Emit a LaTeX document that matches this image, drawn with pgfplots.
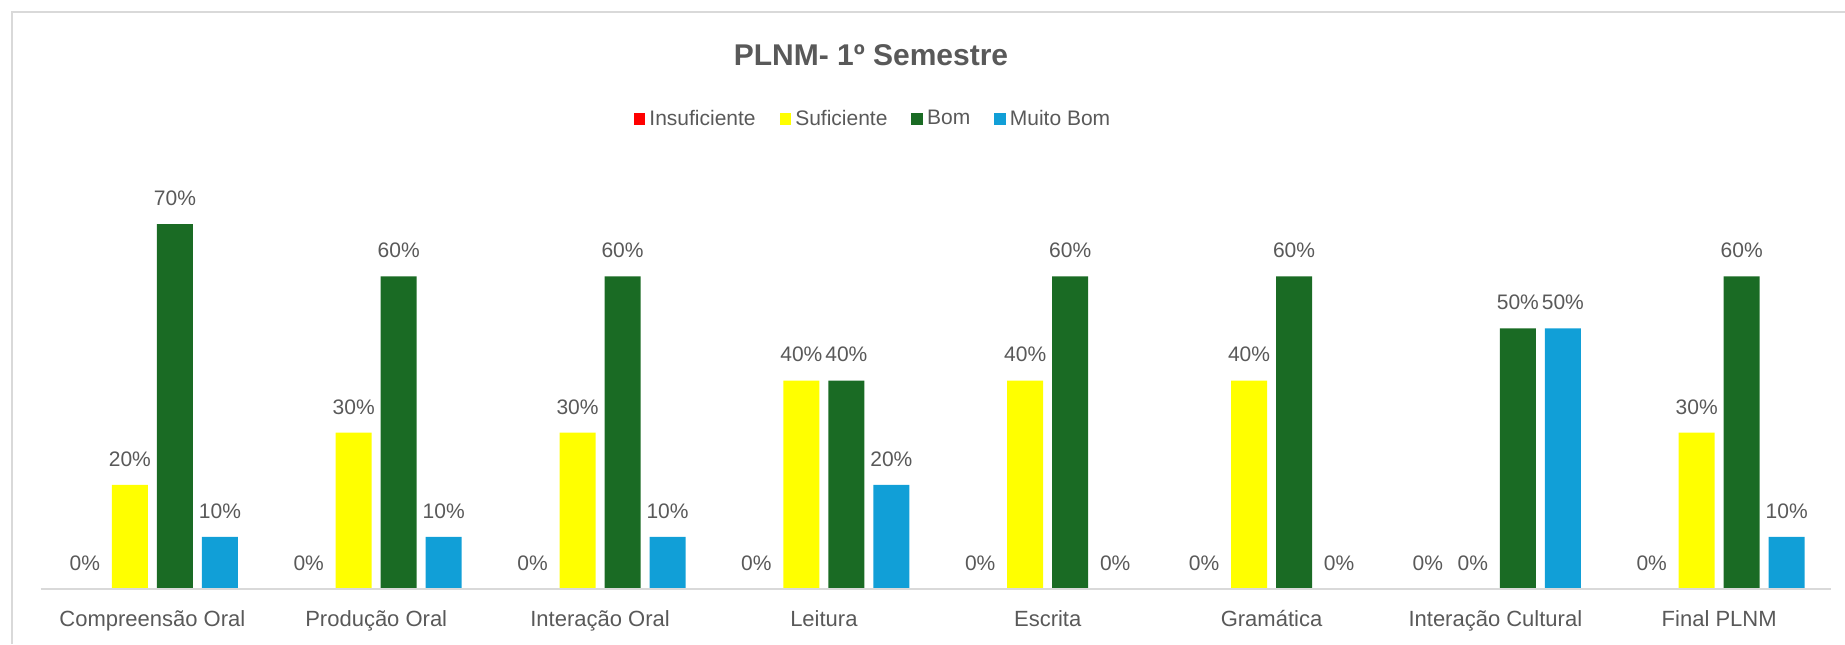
\documentclass[border=0pt]{standalone}
\usepackage{pgfplots}
\pgfplotsset{compat=1.18}
\usepackage{fontspec}
\setmainfont{Liberation Sans}
\definecolor{txt}{HTML}{595959}
\definecolor{cRed}{HTML}{FF0000}
\definecolor{cYel}{HTML}{FFFF00}
\definecolor{cGrn}{HTML}{1A6B24}
\definecolor{cBlu}{HTML}{119FD7}
\definecolor{gridc}{HTML}{D9D9D9}
\begin{document}
\begin{tikzpicture}
\path[use as bounding box] (0,0) rectangle (922.5pt,322pt);
\draw[gridc, line width=1pt] (6pt,0) -- (6pt,316pt) -- (922.5pt,316pt);
\begin{axis}[
  at={(20.25pt,27.5pt)}, anchor=south west, scale only axis,
  width=895.3pt, height=208.5pt,
  xmin=-0.5, xmax=7.5, ymin=0, ymax=80,
  ybar=4.5pt, bar width=18pt,
  axis on top,
  axis x line*=bottom, axis y line=none,
  x axis line style={gridc, line width=1.2pt, -},
  xtick={0,1,2,3,4,5,6,7},
  xticklabels={Compreensão Oral, Produção Oral, Interação Oral, Leitura, Escrita, Gramática, Interação Cultural, Final PLNM},
  major tick length=0pt, xtick style={draw=none}, ytick=\empty,
  xticklabel style={font=\fontsize{11}{13}\selectfont, text=txt, anchor=north, inner sep=0pt, yshift=-10.5pt},
  /pgf/number format/assume math mode=true,
  nodes near coords={\pgfmathprintnumber{\pgfplotspointmeta}\%},
  every node near coord/.append style={font=\fontsize{10.5}{12}\selectfont, text=txt, anchor=south, inner sep=0pt, yshift=9pt},
  legend columns=4,
  legend style={at={(0.4655,1.127)}, anchor=center, draw=none, fill=none,
    font=\fontsize{10.5}{13}\selectfont, text=txt,
    /tikz/every even column/.append style={column sep=10pt}},
  legend image code/.code={\path[#1, draw=none] (-1.5pt,-2.9pt) rectangle (4.3pt,2.9pt);},
  clip=false,
]
\addplot[fill=cRed, draw=none] coordinates {(0,0) (1,0) (2,0) (3,0) (4,0) (5,0) (6,0) (7,0)};
\addplot[fill=cYel, draw=none] coordinates {(0,20) (1,30) (2,30) (3,40) (4,40) (5,40) (6,0) (7,30)};
\addplot[fill=cGrn, draw=none] coordinates {(0,70) (1,60) (2,60) (3,40) (4,60) (5,60) (6,50) (7,60)};
\addplot[fill=cBlu, draw=none] coordinates {(0,10) (1,10) (2,10) (3,20) (4,0) (5,0) (6,50) (7,10)};
\legend{Insuficiente, Suficiente, Bom, Muito Bom}
\node[font=\bfseries\fontsize{15}{17}\selectfont, text=txt] at (axis description cs:0.4638,1.2806) {PLNM- 1º Semestre};
\end{axis}
\end{tikzpicture}
\end{document}
